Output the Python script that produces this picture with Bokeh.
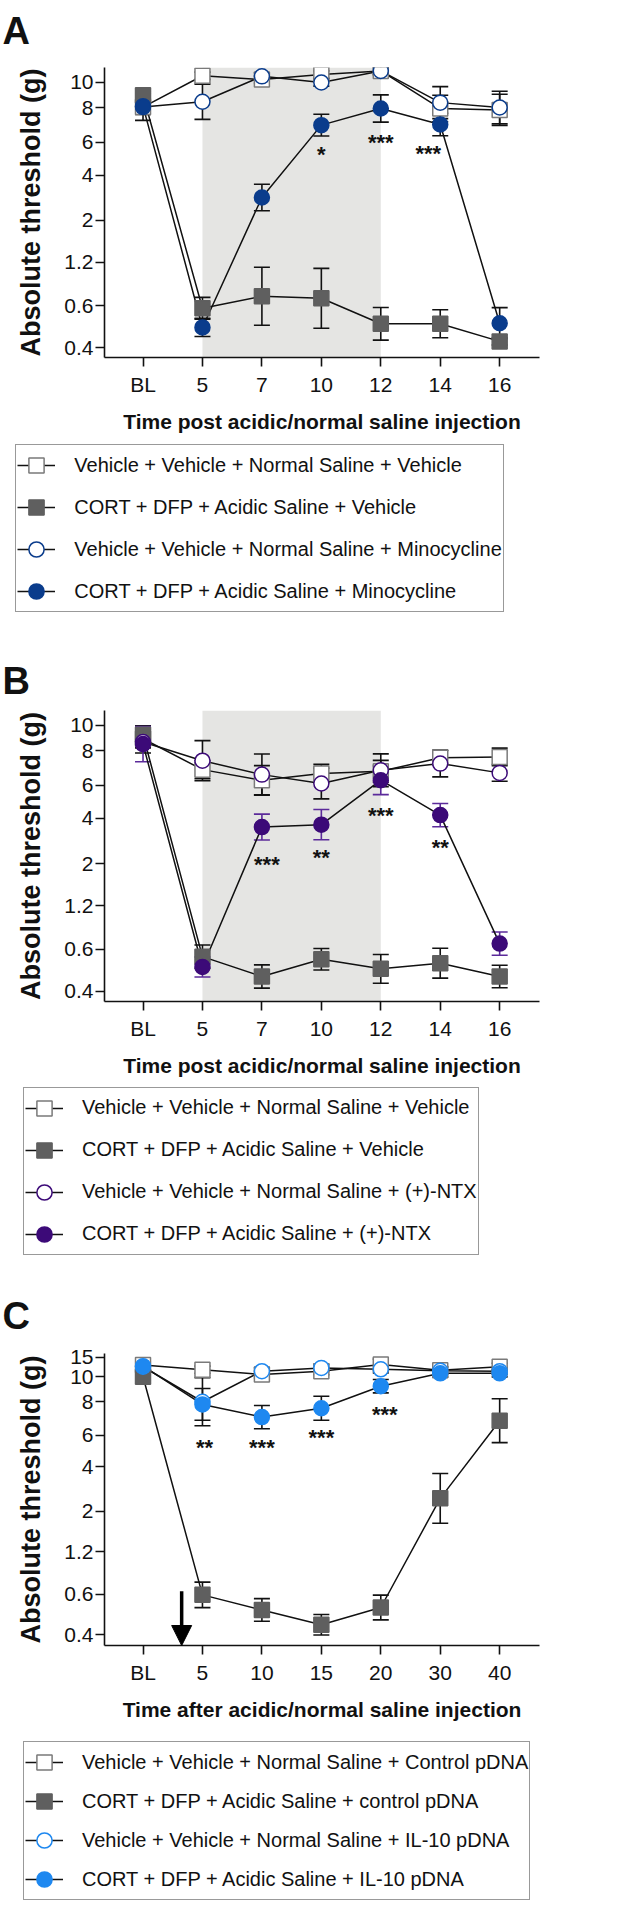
from bokeh.plotting import figure
from bokeh.layouts import column
from bokeh.models import (Range1d, FixedTicker, CustomJSTickFormatter, BoxAnnotation, Whisker,
                          TeeHead, ColumnDataSource, Legend, LegendItem, Arrow, NormalHead)
from bokeh.core.properties import value
from bokeh.embed import file_html
from bokeh.resources import INLINE

FONT = "Liberation Sans"

# ---------------- data ----------------
y_tick_vals = [0.407, 0.692, 1.202, 2.041, 3.63, 5.495, 8.511, 11.749]
y_tick_labels = ["0.4", "0.6", "1.2", "2", "4", "6", "8", "10"]
y_tick_vals_c = [0.407, 0.692, 1.202, 2.041, 3.63, 5.495, 8.511, 11.749, 15.136]
y_tick_labels_c = ["0.4", "0.6", "1.2", "2", "4", "6", "8", "10", "15"]

# Panel A (minocycline)
cats_a = ["BL", "5", "7", "10", "12", "14", "16"]
a_veh_veh = [8.6, 12.8, 12.2, 13.0, 13.6, 8.45, 8.3]
a_cort_veh = [10.0, 0.67, 0.78, 0.76, 0.55, 0.55, 0.44]
a_veh_mino = [8.6, 9.2, 12.7, 11.75, 13.6, 9.1, 8.55]
a_cort_mino = [8.7, 0.525, 2.73, 6.84, 8.45, 6.9, 0.554]
a_err_veh_veh = [0.04, 0.02, 0.02, 0.02, 0.02, 0.073, 0.086]
a_err_cort_veh = [0.02, 0.06, 0.16, 0.165, 0.09, 0.077, 0.02]
a_err_veh_mino = [0.073, 0.097, 0.02, 0.02, 0.02, 0.088, 0.09]
a_err_cort_mino = [0.04, 0.05, 0.073, 0.06, 0.075, 0.062, 0.086]
a_labels = ["Vehicle + Vehicle + Normal Saline + Vehicle",
            "CORT + DFP + Acidic Saline + Vehicle",
            "Vehicle + Vehicle + Normal Saline + Minocycline",
            "CORT + DFP + Acidic Saline + Minocycline"]
a_star_idx = [3, 4, 5]
a_star_txt = ["*", "***", "***"]
a_star_y = [5.09, 5.91, 5.13]
a_star_dx = [0, 0, -12]

# Panel B (+)-NTX
cats_b = ["BL", "5", "7", "10", "12", "14", "16"]
b_veh_veh = [9.9, 6.7, 5.86, 6.38, 6.56, 7.78, 7.87]
b_cort_veh = [10.4, 0.63, 0.49, 0.61, 0.54, 0.58, 0.49]
b_veh_ntx = [9.5, 7.5, 6.29, 5.62, 6.65, 7.23, 6.43]
b_cort_ntx = [9.25, 0.553, 3.24, 3.34, 5.86, 3.77, 0.743]
b_err_veh_veh = [0.05, 0.05, 0.08, 0.05, 0.06, 0.04, 0.048]
b_err_cort_veh = [0.05, 0.064, 0.064, 0.059, 0.079, 0.082, 0.062]
b_err_veh_ntx = [0.06, 0.11, 0.113, 0.084, 0.09, 0.073, 0.046]
b_err_cort_ntx = [0.097, 0.055, 0.071, 0.083, 0.079, 0.064, 0.064]
b_labels = ["Vehicle + Vehicle + Normal Saline + Vehicle",
            "CORT + DFP + Acidic Saline + Vehicle",
            "Vehicle + Vehicle + Normal Saline + (+)-NTX",
            "CORT + DFP + Acidic Saline + (+)-NTX"]
b_star_idx = [2, 3, 4, 5]
b_star_txt = ["***", "**", "***", "**"]
b_star_y = [2.18, 2.37, 4.06, 2.69]
b_star_dx = [5, 0, 0, 0]

# Panel C (IL-10 pDNA)
cats_c = ["BL", "5", "10", "15", "20", "30", "40"]
c_veh_ctrl = [13.7, 12.9, 12.1, 12.65, 13.8, 12.8, 13.4]
c_cort_ctrl = [11.75, 0.685, 0.563, 0.464, 0.581, 2.41, 6.63]
c_veh_il10 = [13.4, 8.49, 12.65, 13.2, 12.95, 12.7, 12.65]
c_cort_il10 = [13.5, 8.2, 6.95, 7.8, 10.4, 12.3, 12.3]
c_err_veh_ctrl = [0.02, 0.02, 0.02, 0.02, 0.03, 0.02, 0.02]
c_err_cort_ctrl = [0.02, 0.072, 0.064, 0.058, 0.07, 0.141, 0.124]
c_err_veh_il10 = [0.02, 0.136, 0.02, 0.02, 0.02, 0.02, 0.02]
c_err_cort_il10 = [0.02, 0.09, 0.066, 0.068, 0.038, 0.02, 0.02]
c_labels = ["Vehicle + Vehicle + Normal Saline + Control pDNA",
            "CORT + DFP + Acidic Saline + control pDNA",
            "Vehicle + Vehicle + Normal Saline + IL-10 pDNA",
            "CORT + DFP + Acidic Saline + IL-10 pDNA"]
c_star_idx = [1, 2, 3, 4]
c_star_txt = ["**", "***", "***", "***"]
c_star_y = [5.08, 5.08, 5.74, 7.78]
c_star_dx = [2, 0, 0, 4]
c_arrow_x = 0.65      # injection marker between BL and day 5
c_arrow_from = 0.718

panel_letters = ["A", "B", "C"]

# ---------------- styling ----------------
GRAY = "#5f5f5f"
OPEN_SQ_EDGE = "#7a7a7a"
BLUE_A = "#0a3c8c"
PURPLE_B = "#3c0a78"
PURPLE_B_ERR = "#5b2a9a"
BLUE_C = "#1e88f0"
INK = "#111111"
SHADE = "#e5e5e3"

W = 609
FRAME_L = 104
FRAME_W = 435
X_START, X_END = -0.648, 6.67
BOTTOM_PAD = 84
LEG_FONT = "20px"


def drop_title(f):
    try:
        f.title = None
    except Exception:
        f.title_location = None


def blank_fig(h):
    f = figure(width=W, height=h, output_backend="svg", toolbar_location=None,
               x_range=Range1d(0, W), y_range=Range1d(0, h),
               x_axis_location=None, y_axis_location=None,
               min_border_left=0, min_border_right=0, min_border_top=0, min_border_bottom=0)
    drop_title(f)
    f.frame_align = False
    f.outline_line_color = None
    f.grid.visible = False
    f.background_fill_color = "white"
    f.border_fill_color = "white"
    return f


def add_letter(f, letter, y_from_bottom):
    f.text(x=[2], y=[y_from_bottom], text=[letter], text_align="left",
           text_baseline="alphabetic", text_font=value(FONT), text_font_style="bold",
           text_font_size="38px", text_color=INK)


def make_main(cats, series, xlabel, top_pad, frame_h, ylo, yhi, yticks, ylabels,
              shade, stars, arrow=None):
    fig_h = top_pad + frame_h + BOTTOM_PAD
    p = figure(width=W, height=fig_h, output_backend="svg", toolbar_location=None,
               y_axis_type="log",
               x_range=Range1d(X_START, X_END),
               y_range=Range1d(10 ** ylo, 10 ** yhi),
               min_border_left=FRAME_L, min_border_right=W - FRAME_L - FRAME_W,
               min_border_top=top_pad, min_border_bottom=BOTTOM_PAD)
    drop_title(p)
    p.frame_align = False
    p.outline_line_color = None
    p.grid.visible = False
    p.background_fill_color = "white"
    p.border_fill_color = "white"

    for ax in (p.xaxis[0], p.yaxis[0]):
        ax.axis_line_color = INK
        ax.axis_line_width = 1.6
        ax.major_tick_line_color = INK
        ax.major_tick_line_width = 1.6
        ax.major_tick_out = 9
        ax.major_tick_in = 0
        ax.minor_tick_out = 0
        ax.minor_tick_in = 0
        ax.major_label_text_font = FONT
        ax.major_label_text_font_size = "21px"
        ax.major_label_text_color = INK
        ax.axis_label_text_font = FONT
        ax.axis_label_text_font_style = "bold"
        ax.axis_label_text_color = INK
    xa = p.xaxis[0]
    xa.ticker = FixedTicker(ticks=list(range(len(cats))))
    xa.formatter = CustomJSTickFormatter(
        args=dict(labs=cats),
        code="const i = Math.round(tick); return (i >= 0 && i < labs.length) ? labs[i] : '';")
    xa.major_label_standoff = 6
    xa.axis_label = xlabel
    xa.axis_label_text_font_size = "21px"
    xa.axis_label_standoff = 11

    ya = p.yaxis[0]
    ya.ticker = FixedTicker(ticks=yticks)
    ya.formatter = CustomJSTickFormatter(
        args=dict(tv=yticks, tl=ylabels),
        code="for (let i = 0; i < tv.length; i++) { if (Math.abs(tv[i] - tick) < 1e-6) return tl[i]; } return '';")
    ya.major_label_standoff = 2
    ya.axis_label = "Absolute threshold (g)"
    ya.axis_label_text_font_size = "27px"
    ya.axis_label_standoff = 15

    if shade is not None:
        p.add_layout(BoxAnnotation(left=shade[0], right=shade[1], fill_color=SHADE,
                                   fill_alpha=1.0, line_color=None, level="underlay"))

    xs = list(range(len(cats)))
    for s in series:
        lo = [v / 10 ** e for v, e in zip(s["y"], s["err"])]
        hi = [v * 10 ** e for v, e in zip(s["y"], s["err"])]
        src = ColumnDataSource(dict(x=xs, lower=lo, upper=hi))
        p.add_layout(Whisker(base="x", lower="lower", upper="upper", source=src,
                             dimension="height", line_color=s["err_color"], line_width=1.6,
                             level="underlay",
                             upper_head=TeeHead(size=16, line_color=s["err_color"], line_width=1.6),
                             lower_head=TeeHead(size=16, line_color=s["err_color"], line_width=1.6)))

    for s in series:
        p.line(xs, s["y"], line_color=INK, line_width=1.5)
    for s in series:
        p.scatter(xs, s["y"], marker=s["marker"], size=15,
                  fill_color=s["fill"], line_color=s["edge"], line_width=1.5)

    idx, txt, sy, dx = stars
    for i, t, yv, d in zip(idx, txt, sy, dx):
        p.text(x=[i], y=[yv], text=[t], text_align="center", text_baseline="middle",
               x_offset=d, y_offset=6, text_font=value(FONT), text_font_style="bold",
               text_font_size="22px", text_color=INK)

    if arrow is not None:
        ax_x, ay0 = arrow
        p.add_layout(Arrow(x_start=ax_x, y_start=ay0, x_end=ax_x, y_end=10 ** ylo,
                           line_color="black", line_width=3.5,
                           end=NormalHead(size=20, fill_color="black", line_color="black")))
    return p


def make_legend_fig(series, legend_h, leg_left, leg_top, leg_spacing):
    lf = blank_fig(legend_h)
    items = []
    for s in series:
        lr = lf.line([-50, -40], [-50, -50], line_color=INK, line_width=1.5)
        mr = lf.scatter([-45], [-50], marker=s["marker"], size=15,
                        fill_color=s["fill"], line_color=s["edge"], line_width=1.5)
        items.append(LegendItem(label=s["label"], renderers=[lr, mr]))
    n = len(items)
    gh = 38
    leg_h = 2 * 1 + n * gh + (n - 1) * leg_spacing
    vy = legend_h - leg_top - leg_h
    leg = Legend(items=items, location=(leg_left, vy), margin=0, padding=1,
                 spacing=leg_spacing, glyph_width=38, glyph_height=gh, label_standoff=19,
                 label_text_font=FONT, label_text_font_size=LEG_FONT, label_text_color=INK,
                 label_height=gh, border_line_color="#333333", border_line_width=1.5,
                 background_fill_color="white", background_fill_alpha=1.0)
    lf.add_layout(leg)
    return lf


def series_set(vals, errs, labels, fill_color, open_edge, err_filled):
    markers = ["square", "square", "circle", "circle"]
    fills = ["white", GRAY, "white", fill_color]
    edges = [OPEN_SQ_EDGE, GRAY, open_edge, fill_color]
    ecols = [INK, INK, INK, err_filled]
    return [dict(y=v, err=e, label=l, marker=m, fill=f, edge=ed, err_color=ec)
            for v, e, l, m, f, ed, ec in zip(vals, errs, labels, markers, fills, edges, ecols)]


sA = series_set([a_veh_veh, a_cort_veh, a_veh_mino, a_cort_mino],
                [a_err_veh_veh, a_err_cort_veh, a_err_veh_mino, a_err_cort_mino],
                a_labels, BLUE_A, BLUE_A, INK)
sB = series_set([b_veh_veh, b_cort_veh, b_veh_ntx, b_cort_ntx],
                [b_err_veh_veh, b_err_cort_veh, b_err_veh_ntx, b_err_cort_ntx],
                b_labels, PURPLE_B, PURPLE_B, PURPLE_B_ERR)
sC = series_set([c_veh_ctrl, c_cort_ctrl, c_veh_il10, c_cort_il10],
                [c_err_veh_ctrl, c_err_cort_ctrl, c_err_veh_il10, c_err_cort_il10],
                c_labels, BLUE_C, BLUE_C, INK)

# header with letter A
hdrA = blank_fig(63)
add_letter(hdrA, panel_letters[0], 63 - 30)

mainA = make_main(cats_a, sA, "Time post acidic/normal saline injection", 4, 290,
                  -0.4454, 1.1526, y_tick_vals, y_tick_labels, (1, 4),
                  (a_star_idx, a_star_txt, a_star_y, a_star_dx))
legA = make_legend_fig(sA, 269, 15.3, 5, 4)
add_letter(legA, panel_letters[1], 30)

mainB = make_main(cats_b, sB, "Time post acidic/normal saline injection", 0, 291,
                  -0.447, 1.1507, y_tick_vals, y_tick_labels, (1, 4),
                  (b_star_idx, b_star_txt, b_star_y, b_star_dx))
legB = make_legend_fig(sB, 260, 23, 3.7, 4)
add_letter(legB, panel_letters[2], 30)

mainC = make_main(cats_c, sC, "Time after acidic/normal saline injection", 8, 292,
                  -0.451, 1.202, y_tick_vals_c, y_tick_labels_c, None,
                  (c_star_idx, c_star_txt, c_star_y, c_star_dx),
                  arrow=(c_arrow_x, c_arrow_from))
legC = make_legend_fig(sC, 175, 23, 14, 1)

layout = column(hdrA, mainA, legA, mainB, legB, mainC, legC, spacing=0)
open("out.html", "w").write(file_html(layout, INLINE))
